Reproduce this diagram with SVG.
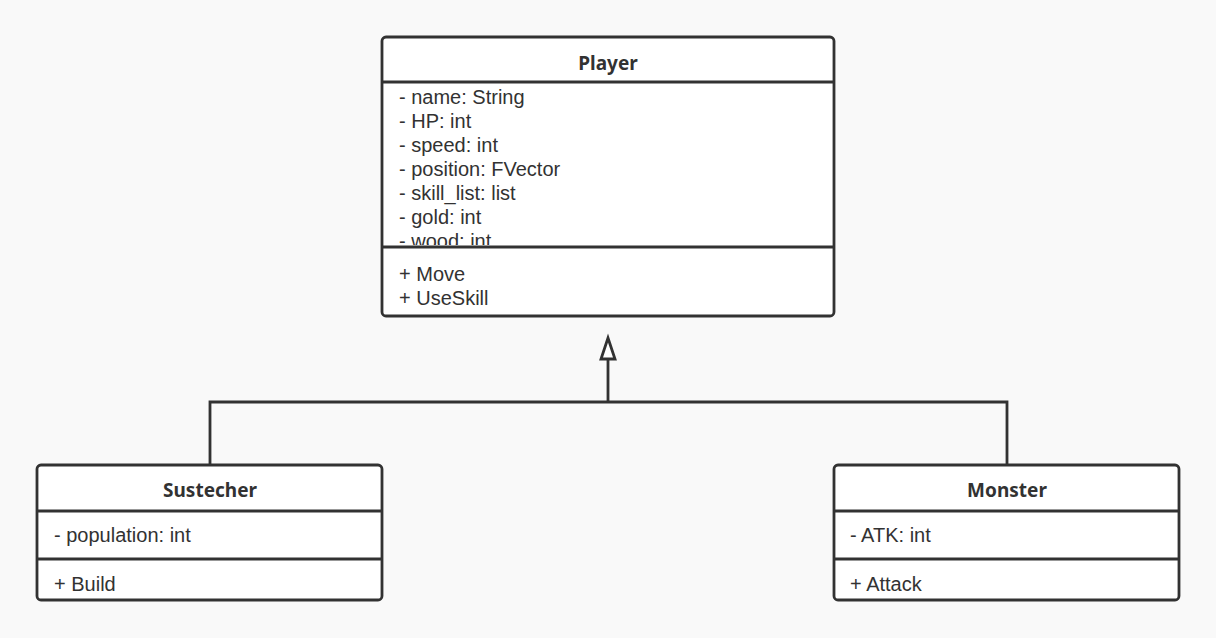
<svg xmlns="http://www.w3.org/2000/svg" width="1216" height="638" viewBox="0 0 1216 638">
<defs>
<style>
.box{fill:#ffffff;stroke:#323232;stroke-width:2.8}
.div{stroke:#323232;stroke-width:2.8}
.t{font-family:"Liberation Sans","Noto Sans",sans-serif;font-size:20px;fill:#323232}
.h{font-family:"Noto Sans","Open Sans","Liberation Sans",sans-serif;font-size:19px;font-weight:bold;fill:#323232;text-anchor:middle}
.edge{fill:none;stroke:#323232;stroke-width:2.8}
.arrow{fill:#ffffff;stroke:#323232;stroke-width:2.8;stroke-linejoin:miter}
</style>
<clipPath id="attrClip"><rect x="383" y="83" width="450" height="162"/></clipPath>
</defs>
<rect width="1216" height="638" fill="#f9f9f9"/>
<g id="connectors">
<path class="edge" d="M608 359 L608 402"/>
<path class="arrow" d="M608 338 L615 359 L601 359 Z"/>
<path class="edge" d="M210 465 L210 402 L1007 402 L1007 465"/>
</g>
<g id="player">
<rect class="box" x="382" y="37" width="452" height="279" rx="4"/>
<line class="div" x1="382" y1="82" x2="834" y2="82"/>
<line class="div" x1="382" y1="247" x2="834" y2="247"/>
<text class="h" x="608" y="70">Player</text>
<g clip-path="url(#attrClip)">
<text class="t" x="399" y="104">- name: String</text>
<text class="t" x="399" y="128">- HP: int</text>
<text class="t" x="399" y="152">- speed: int</text>
<text class="t" x="399" y="176">- position: FVector</text>
<text class="t" x="399" y="200">- skill_list: list</text>
<text class="t" x="399" y="224">- gold: int</text>
<text class="t" x="399" y="248">- wood: int</text>
</g>
<text class="t" x="399" y="281">+ Move</text>
<text class="t" x="399" y="305">+ UseSkill</text>
</g>
<g id="sustecher">
<rect class="box" x="37" y="465" width="345" height="135" rx="4"/>
<line class="div" x1="37" y1="511" x2="382" y2="511"/>
<line class="div" x1="37" y1="559" x2="382" y2="559"/>
<text class="h" x="210" y="497">Sustecher</text>
<text class="t" x="54" y="542">- population: int</text>
<text class="t" x="54" y="591">+ Build</text>
</g>
<g id="monster">
<rect class="box" x="834" y="465" width="345" height="135" rx="4"/>
<line class="div" x1="834" y1="511" x2="1179" y2="511"/>
<line class="div" x1="834" y1="559" x2="1179" y2="559"/>
<text class="h" x="1007" y="497">Monster</text>
<text class="t" x="850" y="542">- ATK: int</text>
<text class="t" x="850" y="591">+ Attack</text>
</g>
</svg>
